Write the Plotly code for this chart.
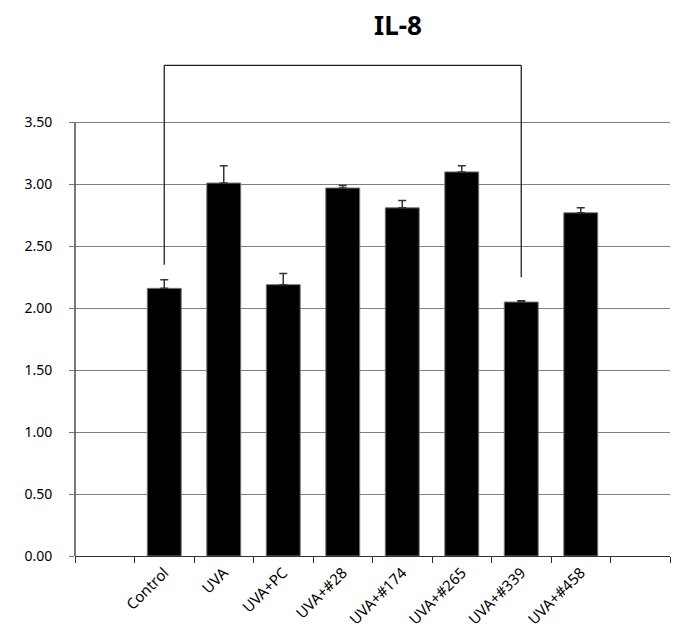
import plotly.graph_objects as go

categories = ["", "Control", "UVA", "UVA+PC", "UVA+#28", "UVA+#174", "UVA+#265", "UVA+#339", "UVA+#458", " "]
values = [None, 2.16, 3.01, 2.19, 2.97, 2.81, 3.10, 2.05, 2.77, None]
errors = [0, 0.07, 0.14, 0.09, 0.02, 0.06, 0.05, 0.01, 0.04, 0]
y_ticks = [0, 0.5, 1.0, 1.5, 2.0, 2.5, 3.0, 3.5]
y_tick_labels = ["0.00", "0.50", "1.00", "1.50", "2.00", "2.50", "3.00", "3.50"]
bracket_from = "Control"
bracket_to = "UVA+#339"
bracket_left_y = 2.35
bracket_right_y = 2.25
bracket_top_y = 3.96

# page has an 8px body margin; figure sized so page is exactly 680x640
W, H = 664, 624
ml, mr, mb = 67, 2, 76
y_max = 4.1
px_per_unit = 124.0
plot_h = y_max * px_per_unit
mt = H - mb - plot_h

fig = go.Figure()
fig.add_trace(go.Bar(
    x=categories, y=values,
    marker=dict(color="black", line=dict(color="#777777", width=1)),
    width=0.57,
    error_y=dict(type="data", array=errors, arrayminus=[0]*len(errors), symmetric=False,
                 color="#333333", thickness=1.5, width=4),
    showlegend=False,
))

line_col = "#222222"
fig.add_shape(type="line", xref="x", yref="y", x0=bracket_from, x1=bracket_from,
              y0=bracket_left_y, y1=bracket_top_y, line=dict(color=line_col, width=1.3))
fig.add_shape(type="line", xref="x", yref="y", x0=bracket_from, x1=bracket_to,
              y0=bracket_top_y, y1=bracket_top_y, line=dict(color=line_col, width=1.3))
fig.add_shape(type="line", xref="x", yref="y", x0=bracket_to, x1=bracket_to,
              y0=bracket_right_y, y1=bracket_top_y, line=dict(color=line_col, width=1.3))
# y axis line from 0 to 3.5
fig.add_shape(type="line", xref="paper", yref="y", x0=0, x1=0, y0=0, y1=3.5,
              line=dict(color="#333333", width=1.3))

fig.update_layout(
    width=W, height=H,
    margin=dict(l=ml, r=mr, t=mt, b=mb, pad=0, autoexpand=False),
    plot_bgcolor="white", paper_bgcolor="white",
    font=dict(family="Noto Sans", color="black", size=15),
    title=dict(text="<b>IL-8</b>", x=390 / W, xanchor="center", y=1 - 18 / H, yanchor="middle",
               font=dict(size=26, family="Noto Sans", color="black"), automargin=False),
)
fig.update_xaxes(
    type="category", categoryorder="array", categoryarray=categories,
    range=[-0.5, len(categories) - 0.5], automargin=False,
    tickson="boundaries", ticks="outside", ticklen=6, tickcolor="#333333",
    showline=True, linecolor="#333333", linewidth=1.3,
    tickangle=-45, tickfont=dict(size=15), showgrid=False, ticklabelstandoff=1,
)
fig.update_yaxes(
    range=[0, y_max], tickvals=y_ticks, ticktext=y_tick_labels, automargin=False,
    ticks="outside", ticklen=5, tickcolor="#777777",
    showgrid=True, gridcolor="#808080", gridwidth=1.3,
    showline=False, zeroline=False, tickfont=dict(size=14), ticklabelstandoff=14,
)

fig.write_html("out.html")
